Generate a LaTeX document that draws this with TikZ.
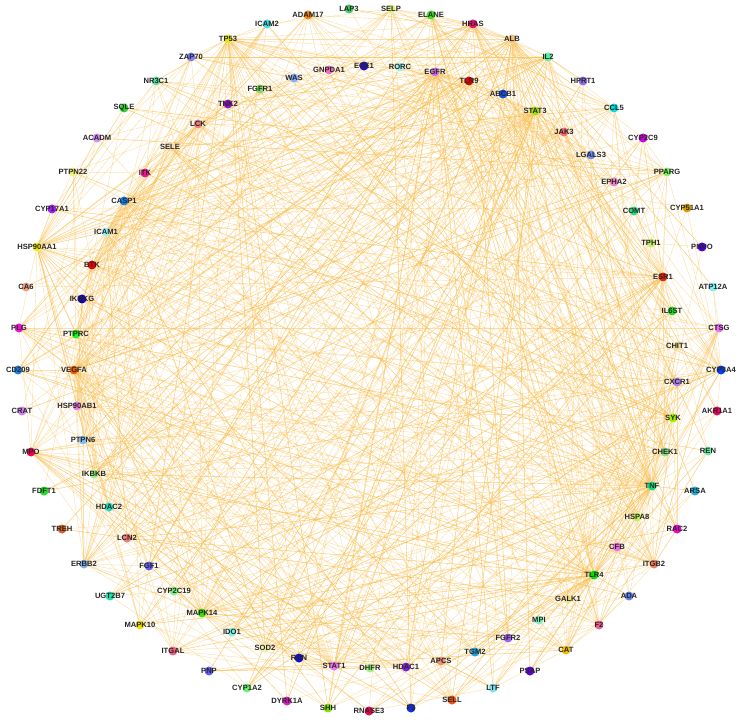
\documentclass[tikz,border=0pt]{standalone}
\usepackage{fontspec}
\setmainfont{Liberation Sans}
\usepackage{tikz}
\usetikzlibrary{backgrounds}
\definecolor{linkc}{RGB}{247,186,70}
\tikzset{
  gene/.style={circle, fill=dotc, minimum size=9pt, inner sep=0pt},
  lbl/.style={font=\fontsize{7.6}{8}\selectfont\bfseries, text=black!85, inner sep=0pt},
  link/.style={draw=linkc, line width=0.45pt, opacity=0.45}
}

\begin{document}
\begin{tikzpicture}[x=1pt, y=-1pt]
\path[use as bounding box] (0,0) rectangle (740,722);

% genes
\foreach \n/\x/\y/\c in {
  TP53/228/39/E8E800, ZAP70/191/57/8080F0, NR3C1/156/81/60E0A0, SQLE/124/108/30D030,
  TNK2/228/104/9010D0, LCK/198/124/F08080, ACADM/97/138/D090F0, SELE/170/147/F8D8B0,
  PTPN22/73/172/F0F080, ITK/145/173/F01090, ICAM2/267/24/40E0E0, ADAM17/308/15/F08010,
  LAP3/349/9/40D060, SELP/391/9/E0F080, ELANE/431/15/40E020, HRAS/473/24/F01070,
  GNPDA1/329/70/F070C0, ECE1/364/66/2010C0, RORC/400/67/A0F0F0, EGFR/435/72/D070E0,
  TLR9/469/81/E00000, WAS/294/78/80B0FF, FGFR1/260/89/80E060, ABCB1/503/94/1050E0,
  ALB/512/39/F0C080, IL2/548/57/60F0A0, HPRT1/583/81/9070F0, STAT3/535/111/A0E000,
  CCL5/614/108/00E0E0, JAK3/564/132/F07070, CYP2C9/643/138/D000E0, LGALS3/591/155/7090F0,
  PPARG/667/172/80F060, EPHA2/614/182/F080C0, CASP1/124/201/1080F0, CYP17A1/52/209/A020F0,
  ICAM1/106/232/A0F0F0, HSP90AA1/37/247/F0F000, BTK/92/265/F00000, CA6/26/287/F0A080,
  IKBKG/82/299/1000C0, PLG/19/328/F010D0, PTPRC/76/334/20F020, CD209/18/370/2080E0,
  VEGFA/74/370/F06000, HSP90AB1/77/406/F080E0, CRAT/22/411/D080F0, PTPN6/83/440/80C0F0,
  MPO/31/452/F00050, IKBKB/94/474/A0F080, FDFT1/44/491/20E020, HDAC2/109/507/20E0C0,
  TREH/62/529/E06020, LCN2/127/538/F08080, CYP51A1/687/208/E0A000, COMT/634/211/20E080,
  TPH1/651/243/C0F060, PNPO/702/247/5000E0, ESR1/663/277/F02000, ATP12A/713/287/80F0F0,
  IL6ST/672/311/20E020, CTSG/719/328/F070F0, CHIT1/677/346/F0E0A0, CYP3A4/721/370/0040F0,
  CXCR1/677/382/B080F0, AKR1A1/717/411/F00060, SYK/673/418/A0F000, CHEK1/665/452/80E080,
  REN/708/451/60F0A0, TNF/652/486/00E080, ARSA/695/491/20B0E0, HSPA8/637/517/C0F060,
  RAC2/677/529/F000D0, CFB/617/547/F070F0, ITGB2/654/564/F08060, TLR4/594/575/00E000,
  GALK1/568/599/F0E080, ADA/629/596/6080F0, MPI/539/620/80F0C0, F2/599/625/F06090,
  FGFR2/508/638/A060F0, CAT/566/650/F0C000, PSAP/530/671/6000E0, LTF/493/688/80E0F0,
  SOD2/265/648/F0F0A0, RAN/299/658/1010D0, STAT1/334/666/F070F0, DHFR/370/668/A0F080,
  HDAC1/406/667/8020E0, APCS/441/661/F09070, TGM2/475/652/20A0E0, CYP1A2/247/688/70F070,
  DYRK1A/287/701/E020C0, SHH/328/708/80E000, RNASE3/369/711/F00050, F3/411/708/1030E0,
  SELL/452/700/F05010, ERBB2/84/564/80B0E0, FGF1/149/566/6060F0, UGT2B7/110/596/20E0B0,
  CYP2C19/174/591/80F080, MAPK14/202/613/40E000, MAPK10/140/625/F0E000, IDO1/232/632/80F0E0,
  ITGAL/173/651/F06080, PNP/209/671/6060F0}{
  \definecolor{dotc}{HTML}{\c}
  \node[gene, label={[lbl]center:\n}] (\n) at (\x,\y) {};
}

% interactions
\begin{scope}[on background layer]
\foreach \t in {STAT3,EGFR,HRAS,ALB,IL2,ESR1,TNF,TLR4,MAPK14,STAT1,HSP90AA1,VEGFA,CASP1,LCK,BTK,ICAM1,JAK3,SYK,HDAC1,HDAC2,ERBB2,MPO,CAT,SOD2,F2,ITGB2,CCL5,PPARG,EPHA2,CYP3A4,SELL,SHH,DYRK1A,HSPA8,CHEK1,IKBKB,IKBKG,PTPRC,TLR9,FGFR1,NR3C1,ZAP70,ICAM2,ADAM17} \draw[link] (TP53) -- (\t);
\foreach \t in {EGFR,STAT3,ALB,IL2,TLR9,ESR1,TNF,TLR4,MAPK14,STAT1,VEGFA,HSP90AA1,ERBB2,FGFR1,FGFR2,FGF1,JAK3,CCL5,CYP3A4,SELP,ELANE,RORC,ECE1,PPARG,CXCR1,SYK,CHEK1,HSPA8,ITGB2,LCK,CASP1,IKBKB,RAC2,EPHA2} \draw[link] (HRAS) -- (\t);
\foreach \t in {STAT3,IL2,ESR1,TNF,TLR4,F2,CAT,PLG,MPO,SELP,ICAM1,CYP3A4,CYP2C9,CYP2C19,CYP1A2,LTF,APCS,SOD2,HSP90AA1,VEGFA,ELANE,CTSG,ADA,REN,PPARG,HDAC1,LAP3,PNPO,ATP12A,ARSA,PSAP,AKR1A1,TREH,CA6} \draw[link] (ALB) -- (\t);
\foreach \t in {STAT3,JAK3,TNF,TLR4,ZAP70,LCK,ITK,PTPRC,STAT1,CCL5,HSP90AA1,VEGFA,ICAM1,CASP1,SYK,BTK,IKBKB,CXCR1,ITGAL,ITGB2,SELL,IDO1,MAPK14,HPRT1,ESR1,RORC,CD209} \draw[link] (IL2) -- (\t);
\foreach \t in {EGFR,JAK3,IL6ST,ESR1,TNF,TLR4,STAT1,MAPK14,VEGFA,HSP90AA1,HSP90AB1,ERBB2,HDAC1,HDAC2,CASP1,PTPN6,PTPRC,IKBKB,IKBKG,SYK,BTK,RORC,PPARG,CCL5,MAPK10,ICAM1,MPO,SOD2,CHEK1,SHH,LGALS3,TGM2,RAN,DYRK1A} \draw[link] (STAT3) -- (\t);
\foreach \t in {ERBB2,ESR1,VEGFA,HSP90AA1,HSP90AB1,STAT1,MAPK14,TNF,TLR4,FGFR1,FGFR2,FGF1,EPHA2,CASP1,HDAC1,HDAC2,PTPN6,JAK3,TLR9,ABCB1,CYP3A4,CHEK1,SYK,SHH,RAC2,ITGB2,F2,TNK2,ECE1,LGALS3} \draw[link] (EGFR) -- (\t);
\foreach \t in {TLR4,TNF,BTK,STAT1,IKBKB,IKBKG,MAPK14,CASP1,IL2,ITGB2} \draw[link] (TLR9) -- (\t);
\foreach \t in {ESR1,TNF,TLR4,MAPK14,STAT1,VEGFA,HSP90AB1,ERBB2,CHEK1,SYK,HSPA8,LCK,BTK,CASP1,IKBKB,IKBKG,JAK3,CYP3A4,ICAM1,PTPRC,HDAC1,HDAC2,PLG,MPO,CYP17A1,PTPN22,ACADM,SQLE,NR3C1,TLR9,ZAP70,TNK2,ITK,CAT,ABCB1,TGM2} \draw[link] (HSP90AA1) -- (\t);
\foreach \t in {ESR1,TNF,TLR4,MAPK14,STAT1,HSP90AB1,ERBB2,ICAM1,ICAM2,SELE,SELP,SELL,F2,F3,PLG,MPO,FGF1,FGFR1,FGFR2,CASP1,HDAC1,ALB,CCL5,PPARG,SOD2,CAT,ITGB2,ITGAL,EPHA2,SHH,PTPRC,IKBKB,CD209,LCN2,HDAC2,ECE1,LGALS3,TGM2} \draw[link] (VEGFA) -- (\t);
\foreach \t in {ESR1,TNF,TLR4,MAPK14,STAT1,CHEK1,HSPA8,ERBB2,SYK,IKBKB,IKBKG,HDAC1,HDAC2,CASP1,JAK3,LCK,BTK,HRAS,NR3C1} \draw[link] (HSP90AB1) -- (\t);
\foreach \t in {TNF,TLR4,MAPK14,STAT1,ERBB2,HDAC1,HDAC2,PPARG,CYP3A4,CYP2C9,CYP1A2,CYP17A1,CYP2C19,COMT,UGT2B7,ABCB1,NR3C1,CHEK1,IL6ST,CASP1,ICAM1,HSPA8,SHH,CAT,SOD2,SYK,CCL5,LCN2,TPH1,CYP51A1} \draw[link] (ESR1) -- (\t);
\foreach \t in {TLR4,MAPK14,STAT1,CASP1,ICAM1,ICAM2,SELE,SELP,SELL,MPO,PLG,F2,F3,CCL5,CXCR1,IKBKB,IKBKG,BTK,SYK,LCK,JAK3,PTPRC,PTPN6,ITGB2,ITGAL,HDAC1,HDAC2,CAT,SOD2,PPARG,IDO1,LCN2,LTF,ADAM17,REN,CTSG,ELANE,CHEK1,IL6ST,HSPA8,RAC2,CFB,ARSA,AKR1A1,CYP3A4,CHIT1,LGALS3,TGM2,RORC} \draw[link] (TNF) -- (\t);
\foreach \t in {MAPK14,STAT1,CASP1,ICAM1,SELE,SELP,MPO,F3,CCL5,IKBKB,IKBKG,BTK,SYK,LCK,ITGB2,CD209,LTF,LCN2,HSPA8,CFB,RAC2,MAPK10,IDO1,CAT,SOD2,ELANE,F2,GALK1,ADA,CTSG,REN,PSAP,APCS,CHIT1,RNASE3,TGM2,LGALS3} \draw[link] (TLR4) -- (\t);
\foreach \t in {STAT1,MAPK10,CASP1,JAK3,SYK,BTK,ICAM1,IKBKB,ERBB2,HDAC1,HSPA8,CHEK1,ITGB2,ITGAL,RAC2,CYP2C19,FGF1,FGFR2,IDO1,SOD2,CAT,LCK,PTPRC,MPO,IL6ST,LGALS3,DYRK1A} \draw[link] (MAPK14) -- (\t);
\foreach \t in {JAK3,IL6ST,IDO1,HDAC1,HDAC2,IKBKB,CASP1,ICAM1,CCL5,PTPN6,PTPRC,SYK,BTK,CXCR1,ERBB2,F3,SOD2,ITGB2,RAN,SHH,DHFR,MPO,NR3C1} \draw[link] (STAT1) -- (\t);
\foreach \t in {IKBKB,IKBKG,BTK,ICAM1,MPO,CAT,SOD2,JAK3,LCK,SYK,CCL5,CTSG,ELANE,PLG,F2,TGM2,LGALS3} \draw[link] (CASP1) -- (\t);
\foreach \t in {ZAP70,ITK,PTPRC,PTPN6,PTPN22,BTK,SYK,JAK3,TNK2,CXCR1,ITGAL,ITGB2,SELL,ICAM1,ERBB2,RAC2,CD209,WAS} \draw[link] (LCK) -- (\t);
\foreach \t in {SYK,ITK,ZAP70,JAK3,PTPRC,PTPN6,IKBKB,IKBKG,RAC2,CXCR1,WAS} \draw[link] (BTK) -- (\t);
\foreach \t in {ICAM2,ITGAL,ITGB2,SELE,SELP,SELL,MPO,F3,PLG,CCL5,CXCR1,ELANE,CTSG,IKBKB,LCN2,SYK,CD209} \draw[link] (ICAM1) -- (\t);
\foreach \t in {IL6ST,ZAP70,SYK,PTPRC,PTPN6,ERBB2,CHEK1} \draw[link] (JAK3) -- (\t);
\foreach \t in {ZAP70,ITK,PTPN6,PTPN22,ITGB2,ITGAL,RAC2,CXCR1,ERBB2,CD209,WAS} \draw[link] (SYK) -- (\t);
\foreach \t in {CCL5,ITGB2,ITGAL,SELL,SELP,SELE,ELANE,MPO,CTSG,RAC2,PLG} \draw[link] (CXCR1) -- (\t);
\foreach \t in {SELP,SELE,ITGB2,LCN2,IDO1,CD209,IKBKB} \draw[link] (CCL5) -- (\t);
\foreach \t in {FGFR1,FGFR2,FGF1,EPHA2,HDAC1,HDAC2,CHEK1,SHH,ABCB1,PTPN6,CYP3A4,IKBKB,TNK2} \draw[link] (ERBB2) -- (\t);
\foreach \t in {ITGAL,ICAM2,SELL,SELP,SELE,MPO,ELANE,CTSG,RAC2,PTPRC,F2,PLG,CD209,CFB} \draw[link] (ITGB2) -- (\t);
\foreach \t in {ELANE,CTSG,LTF,LCN2,PLG,F2,SELL,SELP,CAT,SOD2,ITGAL,ADA,APCS,CFB,RNASE3,CYP3A4,CHIT1} \draw[link] (MPO) -- (\t);
\foreach \t in {F2,F3,ELANE,CTSG,SELP,APCS,CFB,LTF,LCN2,REN,ADAM17,CAT} \draw[link] (PLG) -- (\t);
\foreach \t in {F3,SELP,SELE,ITGAL,ELANE,CTSG,APCS,CFB,REN,CAT,ADAM17} \draw[link] (F2) -- (\t);
\foreach \t in {SELE,SELL,ICAM2,ITGAL,F3,CCL5,CD209,ELANE} \draw[link] (SELP) -- (\t);
\foreach \t in {EGFR,ERBB2,ICAM1,SELL,IL6ST,VEGFA,STAT3,MAPK14,CASP1,ITGB2,HRAS,CXCR1,CCL5} \draw[link] (ADAM17) -- (\t);
\foreach \t in {ITGAL,SELE,TNF,LCK,CD209,PTPRC} \draw[link] (ICAM2) -- (\t);
\foreach \t in {HDAC2,SHH,DYRK1A,NR3C1,PPARG,IDO1,SOD2,CHEK1,ALB,RAN} \draw[link] (HDAC1) -- (\t);
\foreach \t in {NR3C1,PPARG,CHEK1} \draw[link] (HDAC2) -- (\t);
\foreach \t in {SELE,ITGAL,TNF,TLR4,MPO,CXCR1,IL2,CD209,PTPRC} \draw[link] (SELL) -- (\t);
\foreach \t in {SOD2,TNF,TLR4,PPARG,LTF,CYP2C9,CYP3A4,HPRT1,ADA,PNP,AKR1A1} \draw[link] (CAT) -- (\t);
\foreach \t in {TNF,TLR4,STAT3,STAT1,TP53,CASP1,HSP90AA1,JAK3,EGFR,ESR1,IKBKB,VEGFA} \draw[link] (MAPK10) -- (\t);
\foreach \t in {PTPRC,SYK,CD209,STAT1,TLR4} \draw[link] (ITGAL) -- (\t);
\foreach \t in {ZAP70,PTPN6,PTPN22,ITK,CD209,HSP90AA1,CXCR1} \draw[link] (PTPRC) -- (\t);
\foreach \t in {IKBKG,TNF,TLR4,TLR9,STAT3,HSP90AA1,CHEK1,HRAS} \draw[link] (IKBKB) -- (\t);
\foreach \t in {TNF,TLR4,TLR9,HSP90AB1,CHEK1} \draw[link] (IKBKG) -- (\t);
\foreach \t in {CYP2C9,CYP2C19,CYP1A2,CYP17A1,CYP51A1,ABCB1,UGT2B7,TNF,TLR4,PPARG,NR3C1,COMT,SQLE,FDFT1,AKR1A1} \draw[link] (CYP3A4) -- (\t);
\foreach \t in {NR3C1,CYP2C9,VEGFA,ICAM1,MAPK14,CASP1,SQLE,FDFT1,ACADM,CRAT,LCN2} \draw[link] (PPARG) -- (\t);
\foreach \t in {TNF,TLR4,ICAM1,SELP,MAPK14,STAT1,EGFR,ALB} \draw[link] (F3) -- (\t);
\foreach \t in {APCS,ELANE,CTSG,ALB} \draw[link] (CFB) -- (\t);
\foreach \t in {TP53,HSP90AA1,EGFR,STAT3,ESR1,MAPK14,DHFR} \draw[link] (CHEK1) -- (\t);
\foreach \t in {TP53,TNF,TLR4,STAT3,CASP1,EGFR} \draw[link] (HSPA8) -- (\t);
\foreach \t in {TP53,TNF,TLR4,STAT3,ESR1,VEGFA,CASP1,MPO} \draw[link] (SOD2) -- (\t);
\foreach \t in {TNF,TLR4,STAT3,ICAM1,TPH1} \draw[link] (IDO1) -- (\t);
\foreach \t in {GALK1,MPI} \draw[link] (GNPDA1) -- (\t);
\foreach \t in {GALK1,ALB,TLR4} \draw[link] (MPI) -- (\t);
\foreach \t in {VEGFA,ALB,HRAS} \draw[link] (ECE1) -- (\t);
\foreach \t in {IL2,STAT3,IL6ST} \draw[link] (RORC) -- (\t);
\foreach \t in {LCK,ZAP70,BTK,RAC2,ITK} \draw[link] (WAS) -- (\t);
\foreach \t in {PNP,DHFR,ADA,IL2} \draw[link] (HPRT1) -- (\t);
\foreach \t in {CYP2C19,CYP1A2,UGT2B7,ESR1,COMT} \draw[link] (CYP2C9) -- (\t);
\foreach \t in {TNF,STAT3,ICAM1,VEGFA,TP53} \draw[link] (LGALS3) -- (\t);
\foreach \t in {VEGFA,STAT3,TP53,RAC2,FGFR1} \draw[link] (EPHA2) -- (\t);
\foreach \t in {CYP1A2,TPH1,UGT2B7} \draw[link] (COMT) -- (\t);
\foreach \t in {ALB,TPH1,ADA} \draw[link] (PNPO) -- (\t);
\foreach \t in {ALB,CYP3A4,CTSG} \draw[link] (ATP12A) -- (\t);
\foreach \t in {STAT1,JAK3,TLR4,MAPK14,EGFR,HSP90AA1} \draw[link] (IL6ST) -- (\t);
\foreach \t in {ELANE,LTF,RNASE3,ITGB2,TLR4} \draw[link] (CTSG) -- (\t);
\foreach \t in {TNF,TLR4,LTF,LCN2,ELANE,CTSG} \draw[link] (CHIT1) -- (\t);
\foreach \t in {SOD2,ALB,ESR1} \draw[link] (AKR1A1) -- (\t);
\foreach \t in {ALB,F2,PLG,ESR1,TLR4} \draw[link] (REN) -- (\t);
\foreach \t in {TNF,ALB,GALK1,PSAP} \draw[link] (ARSA) -- (\t);
\foreach \t in {TNF,MAPK14,HRAS,ITGB2} \draw[link] (RAC2) -- (\t);
\foreach \t in {ALB,TLR4,TREH} \draw[link] (GALK1) -- (\t);
\foreach \t in {PNP,DHFR,TLR4,MPO} \draw[link] (ADA) -- (\t);
\foreach \t in {FGFR1,FGF1,EGFR,HRAS,MAPK14,STAT3,SHH} \draw[link] (FGFR2) -- (\t);
\foreach \t in {ALB,CTSG,TLR4,TNF} \draw[link] (PSAP) -- (\t);
\foreach \t in {LCN2,ELANE,TNF,RNASE3,APCS} \draw[link] (LTF) -- (\t);
\foreach \t in {TNF,TLR4,STAT3,ICAM1,TP53,EGFR,HSP90AA1} \draw[link] (TGM2) -- (\t);
\foreach \t in {ALB,TLR4,LTF,TNF} \draw[link] (APCS) -- (\t);
\foreach \t in {PNP,STAT1,TP53,HDAC1,ESR1} \draw[link] (DHFR) -- (\t);
\foreach \t in {STAT3,TP53,EGFR,CHEK1,HSP90AA1} \draw[link] (RAN) -- (\t);
\foreach \t in {EGFR,ESR1,STAT3,VEGFA,MAPK14,TP53} \draw[link] (SHH) -- (\t);
\foreach \t in {STAT3,TP53,MAPK14,EGFR} \draw[link] (DYRK1A) -- (\t);
\foreach \t in {MPO,ELANE,LCN2,TNF,TLR4} \draw[link] (RNASE3) -- (\t);
\foreach \t in {CYP3A4,CYP2C9,CYP2C19,UGT2B7,COMT,ESR1,ALB} \draw[link] (CYP1A2) -- (\t);
\foreach \t in {HPRT1,DHFR,CAT,STAT1} \draw[link] (PNP) -- (\t);
\foreach \t in {CYP3A4,CYP2C19,ESR1,ALB} \draw[link] (UGT2B7) -- (\t);
\foreach \t in {CYP3A4,ALB,ESR1,MAPK14,TNF} \draw[link] (CYP2C19) -- (\t);
\foreach \t in {FGFR1,EGFR,VEGFA,HRAS,MAPK14,STAT3,TP53} \draw[link] (FGF1) -- (\t);
\foreach \t in {ELANE,TNF,TLR4,ICAM1,STAT3,CTSG} \draw[link] (LCN2) -- (\t);
\foreach \t in {ALB,GALK1,TNF} \draw[link] (TREH) -- (\t);
\foreach \t in {SQLE,CYP51A1,CYP3A4,PPARG} \draw[link] (FDFT1) -- (\t);
\foreach \t in {ACADM,PPARG,ALB,CAT} \draw[link] (CRAT) -- (\t);
\foreach \t in {TLR4,TNF,ITGB2,LCK,IL2} \draw[link] (CD209) -- (\t);
\foreach \t in {ALB,CYP2C9,ESR1} \draw[link] (CA6) -- (\t);
\foreach \t in {ZAP70,PTPN6,SYK,BTK,ITK,TNF} \draw[link] (PTPN22) -- (\t);
\foreach \t in {CYP3A4,ESR1,CYP51A1,NR3C1,HSP90AA1} \draw[link] (CYP17A1) -- (\t);
\foreach \t in {PPARG,ALB,HSP90AA1,CAT} \draw[link] (ACADM) -- (\t);
\foreach \t in {CYP51A1,PPARG,CYP3A4,HSP90AA1} \draw[link] (SQLE) -- (\t);
\foreach \t in {ESR1,STAT3,TP53,TNF,JAK3,CYP3A4} \draw[link] (NR3C1) -- (\t);
\foreach \t in {ITK,PTPN6,IL2,STAT3,SYK} \draw[link] (ZAP70) -- (\t);
\foreach \t in {EGFR,HSP90AA1,HRAS,STAT3} \draw[link] (TNK2) -- (\t);
\foreach \t in {TNF,TLR4,ITGB2,CXCR1,CCL5,VEGFA} \draw[link] (SELE) -- (\t);
\foreach \t in {IL2,PTPN6,STAT3,JAK3,SYK} \draw[link] (ITK) -- (\t);
\foreach \t in {ALB,TNF,HRAS} \draw[link] (LAP3) -- (\t);
\foreach \t in {TNF,TLR4,LTF,LCN2,CASP1,F2,CHIT1} \draw[link] (ELANE) -- (\t);
\foreach \t in {STAT3,STAT1,EGFR,ERBB2} \draw[link] (PTPN6) -- (\t);
\foreach \t in {ESR1,EGFR,ALB,ERBB2,TP53,HSP90AA1} \draw[link] (ABCB1) -- (\t);
\end{scope}
\end{tikzpicture}
\end{document}
